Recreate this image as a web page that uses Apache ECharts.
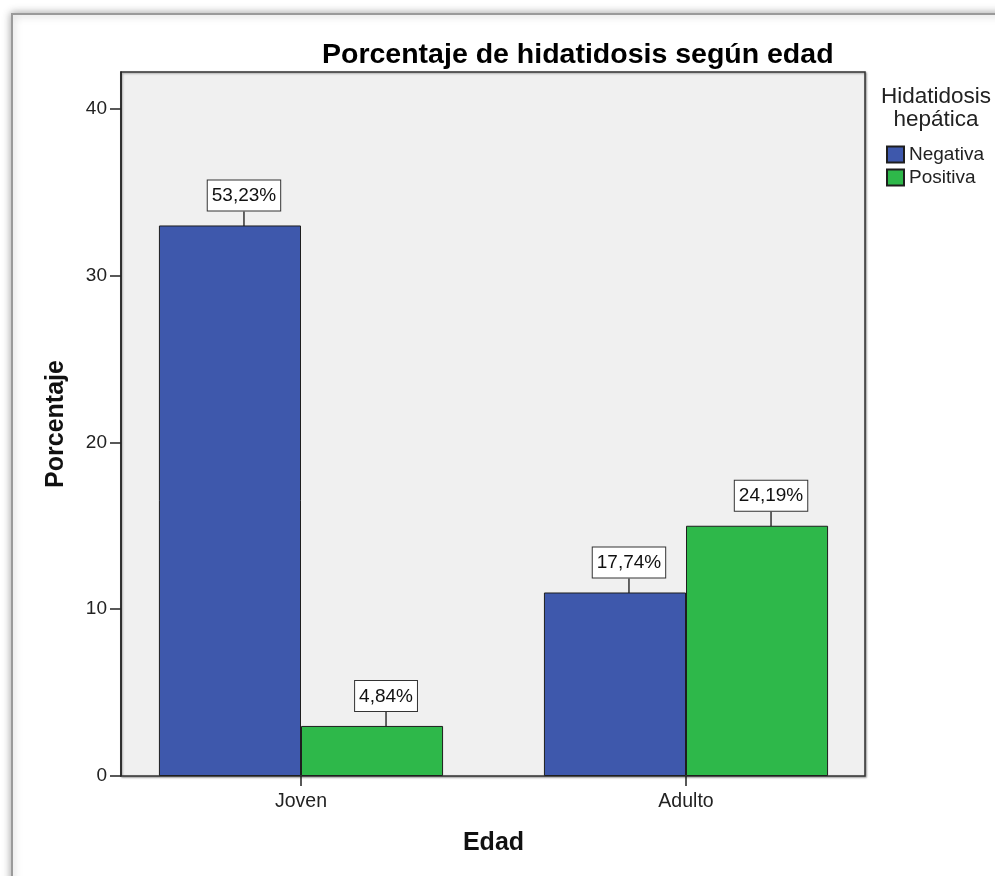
<!DOCTYPE html>
<html>
<head>
<meta charset="utf-8">
<title>Porcentaje de hidatidosis según edad</title>
<script src="https://cdn.jsdelivr.net/npm/echarts@6/dist/echarts.min.js"></script>
<style>
  html, body { margin: 0; padding: 0; background: #fff; }
  #chart { width: 995px; height: 876px; }
</style>
</head>
<body>
<div id="chart"></div>
<script>
// Age groups on the x axis
const categories = ['Joven', 'Adulto'];
// Case counts per age group (bar heights)
const negativa = [33, 11];
const positiva = [3, 15];
// Y axis ticks
const yTicks = [0, 10, 20, 30, 40];

const seriesNames = ['Negativa', 'Positiva'];
const total = negativa.concat(positiva).reduce((a, b) => a + b, 0);

const FONT = 'Arial, "Liberation Sans", sans-serif';

// Share of all cases, written with a decimal comma
function pctLabel(p) {
  const v = p.value / total * 100;
  return v.toFixed(2).replace('.', ',') + '%';
}

const labelStyle = {
  show: true,
  position: 'top',
  distance: 0,
  formatter: pctLabel,
  fontFamily: FONT,
  fontSize: 19,
  color: '#111',
  backgroundColor: '#fff',
  borderColor: '#333',
  borderWidth: 1,
  padding: [6, 4, 5, 4]
};

const chart = echarts.init(document.getElementById('chart'), null, { renderer: 'canvas' });

const option = {
  animation: false,
  backgroundColor: '#fff',
  textStyle: { fontFamily: FONT },
  graphic: [
    {
      type: 'rect',
      z: -10,
      silent: true,
      shape: { x: 12, y: 14, width: 1000, height: 900 },
      style: {
        fill: '#fff',
        stroke: '#9a9a9a',
        lineWidth: 2,
        shadowBlur: 8,
        shadowColor: 'rgba(0,0,0,0.35)'
      }
    }
  ],
  title: [
    {
      text: 'Porcentaje de hidatidosis según edad',
      left: 322,
      top: 41,
      padding: 0,
      textStyle: { fontFamily: FONT, fontSize: 28.5, fontWeight: 'bold', color: '#000' }
    },
    {
      text: 'Hidatidosis\nhepática',
      left: 936,
      top: 85,
      textAlign: 'center',
      padding: 0,
      textStyle: { fontFamily: FONT, fontSize: 22.5, fontWeight: 'normal', color: '#222', lineHeight: 23 }
    }
  ],
  legend: {
    data: seriesNames,
    orient: 'vertical',
    left: 886,
    top: 145,
    padding: 0,
    itemWidth: 17,
    itemHeight: 16,
    itemGap: 4,
    icon: 'rect',
    textStyle: { fontFamily: FONT, fontSize: 19, color: '#222' }
  },
  grid: [
    {
      // plot frame with the value axis
      left: 121, top: 72, width: 744, height: 704,
      show: true,
      backgroundColor: '#f0f0f0',
      borderColor: '#333',
      borderWidth: 1.5,
      shadowColor: 'rgba(0,0,0,0.35)',
      shadowBlur: 2,
      shadowOffsetX: 1,
      shadowOffsetY: 1
    },
    {
      // bars, centred on the age groups
      left: 108.5, top: 72, width: 770, height: 704
    }
  ],
  xAxis: [
    { gridIndex: 0, type: 'value', show: false, min: 0, max: 1 },
    {
      gridIndex: 1,
      type: 'category',
      data: categories,
      axisLine: { show: false },
      axisTick: { show: true, alignWithLabel: true, length: 10, lineStyle: { color: '#222', width: 1.5 } },
      axisLabel: { fontFamily: FONT, fontSize: 19.5, color: '#222', margin: 16 },
      name: 'Edad',
      nameLocation: 'middle',
      nameGap: 55,
      nameTextStyle: { fontFamily: FONT, fontSize: 25, fontWeight: 'bold', color: '#111', verticalAlign: 'top' }
    }
  ],
  yAxis: [
    {
      gridIndex: 0,
      type: 'value',
      min: 0,
      max: 42.2,
      interval: 10,
      axisLine: { show: true, lineStyle: { color: '#222', width: 1.5 } },
      axisTick: { show: true, length: 11, customValues: yTicks, lineStyle: { color: '#222', width: 1.5 } },
      axisLabel: { fontFamily: FONT, fontSize: 19, color: '#222', margin: 14, customValues: yTicks },
      splitLine: { show: false },
      name: 'Porcentaje',
      nameLocation: 'middle',
      nameGap: 52,
      nameTextStyle: { fontFamily: FONT, fontSize: 25, fontWeight: 'bold', color: '#111' }
    },
    { gridIndex: 1, type: 'value', min: 0, max: 42.2, show: false }
  ],
  series: [
    {
      name: seriesNames[0],
      type: 'bar',
      xAxisIndex: 1,
      yAxisIndex: 1,
      data: negativa,
      barGap: '0%',
      barCategoryGap: '26.2%',
      itemStyle: { color: '#3e58ac', borderColor: '#1e1e1e', borderWidth: 1 },
      label: labelStyle,
      labelLayout: { dx: 14, dy: -15 },
      labelLine: { show: true, lineStyle: { color: '#333', width: 1.5 } }
    },
    {
      name: seriesNames[1],
      type: 'bar',
      xAxisIndex: 1,
      yAxisIndex: 1,
      data: positiva,
      barGap: '0%',
      barCategoryGap: '26.2%',
      itemStyle: { color: '#2eb84a', borderColor: '#1e1e1e', borderWidth: 1 },
      label: labelStyle,
      labelLayout: { dx: 14, dy: -15 },
      labelLine: { show: true, lineStyle: { color: '#333', width: 1.5 } }
    }
  ]
};

chart.setOption(option);
</script>
</body>
</html>
